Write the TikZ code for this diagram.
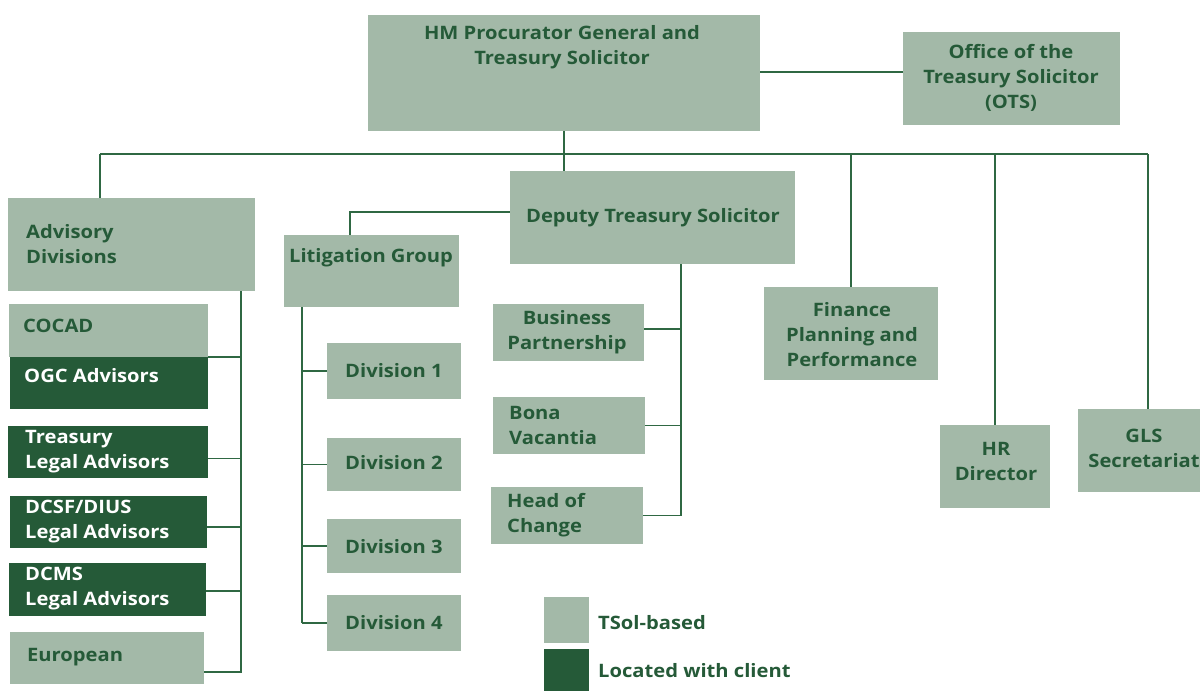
\documentclass[tikz,border=0pt]{standalone}
\usepackage{fontspec}
\setmainfont{Open Sans}[FakeStretch=1.09]
\usetikzlibrary{fit}
\definecolor{lightg}{HTML}{A3B9A8}
\definecolor{darkg}{HTML}{255A38}
\definecolor{txtg}{HTML}{255A38}
\definecolor{lineg}{HTML}{2F6843}
\begin{document}
\begin{tikzpicture}[x=1pt,y=-1pt,
 lbox/.style={fill=lightg, draw=none, inner sep=0pt},
 dbox/.style={fill=darkg, draw=none, inner sep=0pt},
 lab/.style={font=\fontsize{18.5}{25}\selectfont\bfseries, text=txtg, inner sep=0pt},
 clab/.style={lab, align=center},
 llab/.style={lab, align=left, anchor=west},
 wlab/.style={llab, text=white},
 conn/.style={draw=lineg, line width=1.5pt}]
\useasboundingbox (0,0) rectangle (1200,691);

% boxes
\node[lbox, fit={(368,15) (760,131)}] (hm) {};
\node[lbox, fit={(903,32) (1120,125)}] (ots) {};
\node[lbox, fit={(8,198) (255,291)}] (adv) {};
\node[lbox, fit={(510,171) (795,264)}] (dep) {};
\node[lbox, fit={(284,235) (459,307)}] (lit) {};
\node[lbox, fit={(9,304) (208,357)}] (cocad) {};
\node[dbox, fit={(10,357) (208,409)}] (ogc) {};
\node[dbox, fit={(8,426) (208,478)}] (tla) {};
\node[dbox, fit={(10,496) (207,548)}] (dcsf) {};
\node[dbox, fit={(9,563) (206,616)}] (dcms) {};
\node[lbox, fit={(10,632) (204,684)}] (eur) {};
\node[lbox, fit={(327,343) (461,399)}] (div1) {};
\node[lbox, fit={(327,438) (461,491)}] (div2) {};
\node[lbox, fit={(327,519) (461,573)}] (div3) {};
\node[lbox, fit={(327,595) (461,651)}] (div4) {};
\node[lbox, fit={(493,304) (644,361)}] (bp) {};
\node[lbox, fit={(493,397) (645,454)}] (bv) {};
\node[lbox, fit={(491,487) (643,544)}] (hoc) {};
\node[lbox, fit={(764,287) (938,380)}] (fin) {};
\node[lbox, fit={(940,425) (1050,508)}] (hr) {};
\node[lbox, fit={(1078,409) (1212,492)}] (gls) {};
\node[lbox, fit={(544,597) (589,643)}] (keyl) {};
\node[dbox, fit={(544,649) (589,691)}] (keyd) {};

% labels
\node[clab] (hmt) at (562,47.5) {HM Procurator General and\\Treasury Solicitor};
\node[clab] (otst) at (1011,77.5) {Office of the\\Treasury Solicitor\\(OTS)};
\node[llab] (advt) at (26,244.5) {Advisory\\Divisions};
\node[clab] (dept) at (653,218) {Deputy Treasury Solicitor};
\node[clab] (litt) at (371,258) {Litigation Group};
\node[llab] (cocadt) at (23,326) {COCAD};
\node[wlab] (ogct) at (24,376) {OGC Advisors};
\node[wlab] (tlat) at (25,452) {Treasury\\Legal Advisors};
\node[wlab] (dcsft) at (25,522) {DCSF/DIUS\\Legal Advisors};
\node[wlab] (dcmst) at (25,589) {DCMS\\Legal Advisors};
\node[llab] (eurt) at (27,657) {European};
\node[llab] (div1t) at (345,371) {Division 1};
\node[llab] (div2t) at (345,463) {Division 2};
\node[llab] (div3t) at (345,547) {Division 3};
\node[llab] (div4t) at (345,623) {Division 4};
\node[clab] (bpt) at (567,332) {Business\\Partnership};
\node[llab] (bvt) at (509,425.5) {Bona\\Vacantia};
\node[llab] (hoct) at (507,515) {Head of\\Change};
\node[clab] (fint) at (852,334.5) {Finance\\Planning and\\Performance};
\node[clab] (hrt) at (996,461) {HR\\Director};
\node[clab] (glst) at (1144,448.5) {GLS\\Secretariat};
\node[llab] (keylt) at (598,623) {TSol-based};
\node[llab] (keydt) at (598,671) {Located with client};

% connector coordinates
\coordinate (busL) at (100,154);
\coordinate (busR) at (1148,154);
\coordinate (litj) at (350,212);
\coordinate (lits) at (302,0);
\coordinate (deps) at (681,0);
\coordinate (advs) at (241,0);

% connectors (yshift is upward on the page)
\draw[conn] ([yshift=1pt]hm.east) -- ([yshift=1pt]hm.east -| ots.west);
\draw[conn] (busL) -- (busR);
\draw[conn] (hm.south) -- (hm.south |- dep.north);
\draw[conn] (busL) -- (busL |- adv.north);
\draw[conn] (fin.north |- busR) -- (fin.north);
\draw[conn] (hr.north |- busR) -- (hr.north);
\draw[conn] (busR) -- (busR |- gls.north);
\draw[conn] (dep.west |- litj) -- (litj) -- (litj |- lit.north);
\draw[conn] (lits |- lit.south) -- (lits |- div4.west);
\foreach \d in {div1,div2,div3,div4} \draw[conn] (lits |- \d.west) -- (\d.west);
\draw[conn] (deps |- dep.south) -- (deps |- hoc.east) -- (hoc.east);
\draw[conn] ([yshift=3.5pt]bp.east) -- ([yshift=3.5pt]deps |- bp.east);
\draw[conn] (bv.east) -- (deps |- bv.east);
\draw[conn] (advs |- adv.south) -- ([yshift=-14pt]advs |- eur.east) -- ([yshift=-14pt]eur.east);
\draw[conn] (cocad.south east) -- (advs |- cocad.south east);
\draw[conn] ([yshift=-6.5pt]tla.east) -- ([yshift=-6.5pt]advs |- tla.east);
\draw[conn] ([yshift=-5pt]dcsf.east) -- ([yshift=-5pt]advs |- dcsf.east);
\draw[conn] ([yshift=-1.5pt]dcms.east) -- ([yshift=-1.5pt]advs |- dcms.east);
\end{tikzpicture}
\end{document}
